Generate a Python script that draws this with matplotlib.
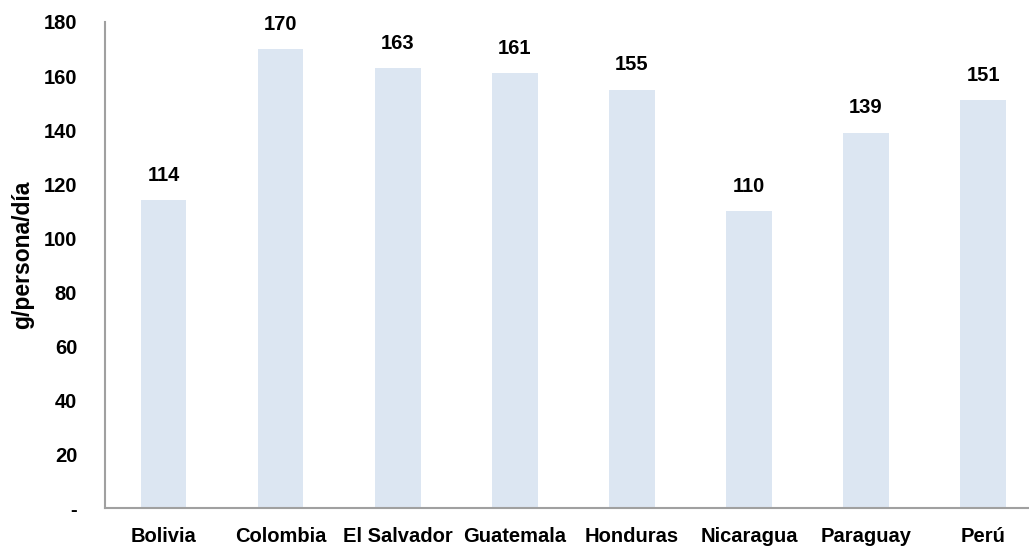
import matplotlib
matplotlib.use("Agg")
import matplotlib.pyplot as plt

countries = ["Bolivia", "Colombia", "El Salvador", "Guatemala",
             "Honduras", "Nicaragua", "Paraguay", "Perú"]
grams = [114, 170, 163, 161, 155, 110, 139, 151]
yticks = [0, 20, 40, 60, 80, 100, 120, 140, 160, 180]
ytick_labels = ["-"] + [str(v) for v in yticks[1:]]

plt.rcParams["font.family"] = ["Liberation Sans", "DejaVu Sans"]
plt.rcParams["font.weight"] = "bold"

fig = plt.figure(figsize=(10.29, 5.49), dpi=100)
# plot area runs past the right edge of the canvas
ax = fig.add_axes([105 / 1029, 1 - 508 / 549, 936.6 / 1029, 486 / 549])

x = range(len(countries))
ax.bar(x, grams, width=0.39, color="#dce6f2", zorder=2)

for xi, v in zip(x, grams):
    ax.annotate(str(v), (xi, v), xytext=(0, 11), textcoords="offset points",
                ha="center", va="bottom", fontsize=14.5, fontweight="bold")

ax.set_xlim(-0.5, len(countries) - 0.5)
ax.set_ylim(0, 180)
ax.set_xticks(list(x))
ax.set_xticklabels(countries, fontsize=14.5, fontweight="bold")
ax.set_yticks(yticks)
ax.set_yticklabels(ytick_labels, fontsize=14.5, fontweight="bold")
ax.tick_params(axis="both", length=0)
ax.tick_params(axis="y", pad=20)
ax.tick_params(axis="x", pad=14)

ax.set_ylabel("g/persona/día", fontsize=16.5, fontweight="bold")
ax.yaxis.set_label_coords(-0.076, 0.52)

for side in ("top", "right"):
    ax.spines[side].set_visible(False)
for side in ("left", "bottom"):
    ax.spines[side].set_color("#a0a0a0")
    ax.spines[side].set_linewidth(1.5)

fig.savefig("out.png", dpi=100)
